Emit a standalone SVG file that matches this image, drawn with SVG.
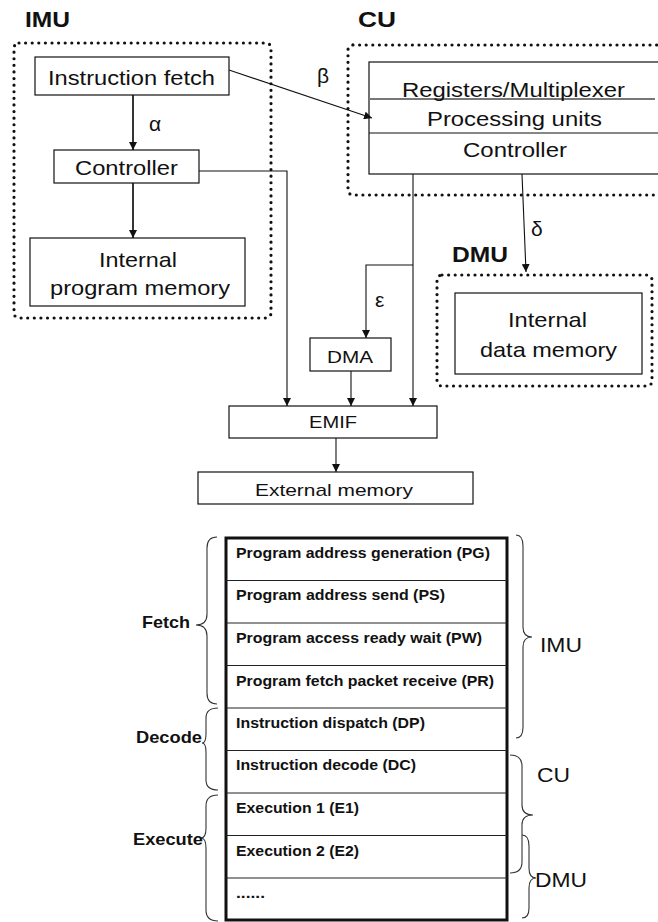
<svg xmlns="http://www.w3.org/2000/svg" width="658" height="922" viewBox="0 0 658 922">
  <style>
    text { font-family: "Liberation Sans", Arial, sans-serif; fill: #111; }
    .lbl { font-size: 21px; }
    .sm { font-size: 17px; }
    .hdr { font-size: 22px; font-weight: bold; }
    .row { font-size: 15px; font-weight: bold; }
    .stage { font-size: 17px; font-weight: bold; }
    .unit { font-size: 20px; }
    .box { fill: #fff; stroke: #111; stroke-width: 1.2; }
    .dots { fill: none; stroke: #111; stroke-width: 3.2; stroke-linecap: round; stroke-dasharray: 0 6.6; }
    .wire { fill: none; stroke: #111; stroke-width: 1.1; }
    .wire2 { fill: none; stroke: #111; stroke-width: 1.7; }
    .brace { fill: none; stroke: #333; stroke-width: 1.1; }
  </style>
  <defs>
    <marker id="arrow" viewBox="0 0 10 10" refX="10" refY="5" markerWidth="8" markerHeight="8" markerUnits="userSpaceOnUse" orient="auto">
      <path d="M0,0 L10,5 L0,10 z" fill="#111"/>
    </marker>
  </defs>
  <rect width="658" height="922" fill="#fff"/>

  <!-- Instruction memory unit -->
  <g id="imu">
    <text class="hdr" x="25" y="27" textLength="45" lengthAdjust="spacingAndGlyphs">IMU</text>
    <rect class="dots" x="14" y="43" width="257" height="275" rx="5"/>
  </g>
  <g id="instruction-fetch">
    <rect class="box" x="35" y="57" width="194" height="38"/>
    <text class="lbl" x="48" y="85" textLength="167" lengthAdjust="spacingAndGlyphs">Instruction fetch</text>
  </g>
  <g id="imu-controller">
    <rect class="box" x="54" y="150" width="145" height="33"/>
    <text class="lbl" x="75" y="175" textLength="103" lengthAdjust="spacingAndGlyphs">Controller</text>
  </g>
  <g id="program-memory">
    <rect class="box" x="30" y="238" width="215" height="68"/>
    <text class="lbl" x="99" y="267" textLength="78" lengthAdjust="spacingAndGlyphs">Internal</text>
    <text class="lbl" x="50" y="295" textLength="180" lengthAdjust="spacingAndGlyphs">program memory</text>
  </g>

  <!-- Control unit -->
  <g id="cu">
    <text class="hdr" x="358" y="27" textLength="38" lengthAdjust="spacingAndGlyphs">CU</text>
    <rect class="dots" x="348" y="45" width="330" height="150" rx="5"/>
    <rect class="box" x="369" y="62" width="320" height="112"/>
    <line x1="369" y1="99" x2="655" y2="99" stroke="#777" stroke-width="2"/>
    <line x1="369" y1="133" x2="658" y2="133" stroke="#111" stroke-width="1.2"/>
    <text class="lbl" x="402" y="97" textLength="223" lengthAdjust="spacingAndGlyphs">Registers/Multiplexer</text>
    <text class="lbl" x="427" y="126" textLength="175" lengthAdjust="spacingAndGlyphs">Processing units</text>
    <text class="lbl" x="463" y="157" textLength="104" lengthAdjust="spacingAndGlyphs">Controller</text>
  </g>

  <!-- Data memory unit -->
  <g id="dmu">
    <text class="hdr" x="452" y="262" textLength="56" lengthAdjust="spacingAndGlyphs">DMU</text>
    <rect class="dots" x="437" y="275" width="215" height="111" rx="5"/>
    <rect class="box" x="455" y="293" width="187" height="81"/>
    <text class="lbl" x="508" y="327" textLength="79" lengthAdjust="spacingAndGlyphs">Internal</text>
    <text class="lbl" x="480" y="357" textLength="137" lengthAdjust="spacingAndGlyphs">data memory</text>
  </g>

  <g id="dma">
    <rect class="box" x="310" y="338" width="81" height="33"/>
    <text class="sm" x="327" y="363" textLength="46" lengthAdjust="spacingAndGlyphs">DMA</text>
  </g>
  <g id="emif">
    <rect class="box" x="229" y="406" width="208" height="32"/>
    <text class="sm" x="309" y="428" textLength="48" lengthAdjust="spacingAndGlyphs">EMIF</text>
  </g>
  <g id="external-memory">
    <rect class="box" x="198" y="472" width="275" height="32"/>
    <text class="sm" x="255" y="496" textLength="158" lengthAdjust="spacingAndGlyphs">External memory</text>
  </g>

  <!-- Connectors -->
  <g id="connectors">
    <line class="wire2" x1="133" y1="95" x2="133" y2="150" marker-end="url(#arrow)"/>
    <line class="wire2" x1="133" y1="183" x2="133" y2="238" marker-end="url(#arrow)"/>
    <line class="wire" x1="229" y1="70" x2="372" y2="118" marker-end="url(#arrow)"/>
    <polyline class="wire" points="199,171 287,171 287,406" marker-end="url(#arrow)"/>
    <line class="wire" x1="413" y1="174" x2="413" y2="406" marker-end="url(#arrow)"/>
    <polyline class="wire" points="413,265 366,265 366,338" marker-end="url(#arrow)"/>
    <line class="wire" x1="351" y1="371" x2="351" y2="406" marker-end="url(#arrow)"/>
    <line class="wire" x1="522" y1="174" x2="526" y2="272" marker-end="url(#arrow)"/>
    <line class="wire" x1="336" y1="438" x2="336" y2="472" marker-end="url(#arrow)"/>
  </g>
  <g id="connector-labels">
    <text class="lbl" x="149" y="131">α</text>
    <text class="lbl" x="317" y="83">β</text>
    <text class="lbl" x="531" y="236">δ</text>
    <text class="lbl" x="375" y="307">ε</text>
  </g>

  <!-- Pipeline stages -->
  <g id="pipeline">
    <rect x="226" y="538" width="281" height="382" fill="#fff" stroke="#111" stroke-width="3"/>
    <g stroke="#222" stroke-width="1">
      <line x1="226" y1="580.5" x2="507" y2="580.5"/>
      <line x1="226" y1="623" x2="507" y2="623"/>
      <line x1="226" y1="665.5" x2="507" y2="665.5"/>
      <line x1="226" y1="708" x2="507" y2="708"/>
      <line x1="226" y1="750.5" x2="507" y2="750.5"/>
      <line x1="226" y1="793" x2="507" y2="793"/>
      <line x1="226" y1="835.5" x2="507" y2="835.5"/>
      <line x1="226" y1="878" x2="507" y2="878"/>
    </g>
    <text class="row" x="236" y="558" textLength="254" lengthAdjust="spacingAndGlyphs">Program address generation (PG)</text>
    <text class="row" x="236" y="600" textLength="209" lengthAdjust="spacingAndGlyphs">Program address send (PS)</text>
    <text class="row" x="236" y="643" textLength="246" lengthAdjust="spacingAndGlyphs">Program access ready wait (PW)</text>
    <text class="row" x="236" y="686" textLength="258" lengthAdjust="spacingAndGlyphs">Program fetch packet receive (PR)</text>
    <text class="row" x="236" y="728" textLength="189" lengthAdjust="spacingAndGlyphs">Instruction dispatch (DP)</text>
    <text class="row" x="236" y="770" textLength="180" lengthAdjust="spacingAndGlyphs">Instruction decode (DC)</text>
    <text class="row" x="236" y="813" textLength="123" lengthAdjust="spacingAndGlyphs">Execution 1 (E1)</text>
    <text class="row" x="236" y="856" textLength="123" lengthAdjust="spacingAndGlyphs">Execution 2 (E2)</text>
    <text class="row" x="236" y="898" textLength="29" lengthAdjust="spacingAndGlyphs">......</text>
  </g>

  <!-- Stage groups -->
  <g id="stage-braces">
    <path class="brace" d="M217,537 Q207,537 207,548 L207,614 Q207,625 196,625 Q207,625 207,636 L207,693 Q207,704 217,704"/>
    <path class="brace" d="M218,708 Q206,708 206,718 L206,734 Q206,743 202,743 Q206,743 206,752 L206,780 Q206,790 218,790"/>
    <path class="brace" d="M218,795 Q206,795 206,806 L206,828 Q206,838 201,838 Q206,838 206,848 L206,910 Q206,921 218,921"/>
    <text class="stage" x="142" y="628" textLength="48" lengthAdjust="spacingAndGlyphs">Fetch</text>
    <text class="stage" x="136" y="743" textLength="66" lengthAdjust="spacingAndGlyphs">Decode</text>
    <text class="stage" x="133" y="845" textLength="70" lengthAdjust="spacingAndGlyphs">Execute</text>
  </g>

  <!-- Unit groups -->
  <g id="unit-braces">
    <path class="brace" d="M516,535 Q523,535 523,546 L523,627 Q523,637 532,637 Q523,637 523,647 L523,727 Q523,738 516,738"/>
    <path class="brace" d="M510,755 Q522,755 522,766 L522,805 Q522,815 533,815 Q522,815 522,825 L522,862 Q522,873 510,873"/>
    <path class="brace" d="M522,835 Q529,835 529,846 L529,868 Q529,878 536,878 Q529,878 529,888 L529,908 Q529,918 522,918"/>
    <text class="unit" x="540" y="652" textLength="42" lengthAdjust="spacingAndGlyphs">IMU</text>
    <text class="unit" x="537" y="782" textLength="33" lengthAdjust="spacingAndGlyphs">CU</text>
    <text class="unit" x="535" y="887" textLength="52" lengthAdjust="spacingAndGlyphs">DMU</text>
  </g>
</svg>
